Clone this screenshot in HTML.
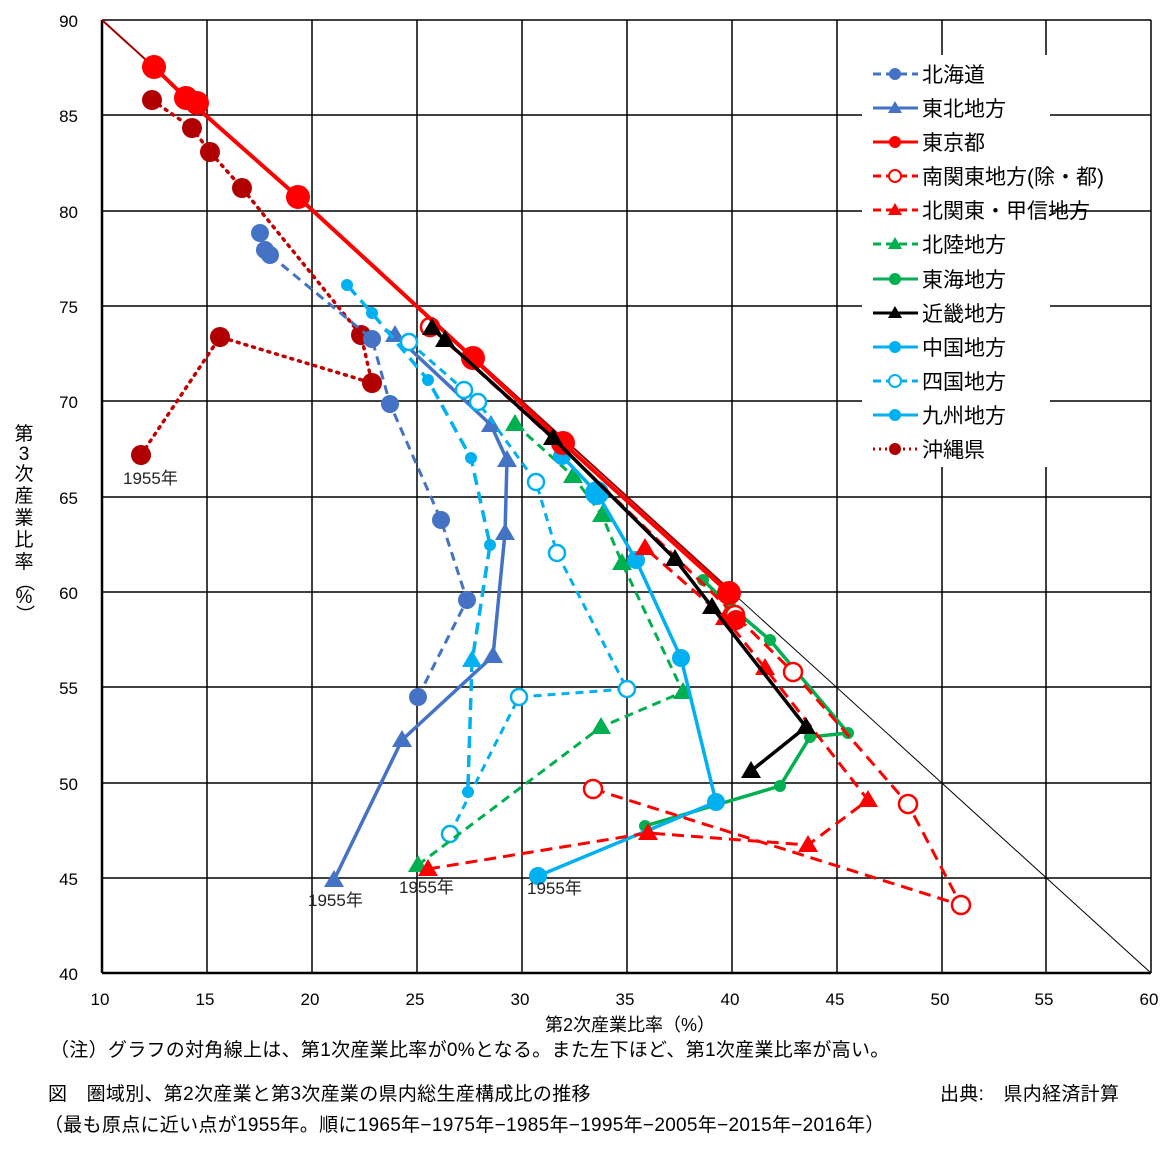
<!DOCTYPE html>
<html><head><meta charset="utf-8"><style>
body{margin:0;background:#fff;}
svg text{font-family:"Liberation Sans","Noto Sans CJK JP",sans-serif;}
</style></head><body>
<svg width="1171" height="1154" xmlns="http://www.w3.org/2000/svg">
<rect width="1171" height="1154" fill="#fff"/>
<g stroke="#000" stroke-width="1.5">
<line x1="207" y1="20" x2="207" y2="973"/><line x1="312" y1="20" x2="312" y2="973"/><line x1="417" y1="20" x2="417" y2="973"/><line x1="522" y1="20" x2="522" y2="973"/><line x1="627" y1="20" x2="627" y2="973"/><line x1="732" y1="20" x2="732" y2="973"/><line x1="837" y1="20" x2="837" y2="973"/><line x1="942" y1="20" x2="942" y2="973"/><line x1="1046" y1="20" x2="1046" y2="973"/><line x1="1151" y1="20" x2="1151" y2="973"/>
<line x1="102" y1="20" x2="1151" y2="20"/><line x1="102" y1="115" x2="1151" y2="115"/><line x1="102" y1="211" x2="1151" y2="211"/><line x1="102" y1="306" x2="1151" y2="306"/><line x1="102" y1="401" x2="1151" y2="401"/><line x1="102" y1="497" x2="1151" y2="497"/><line x1="102" y1="592" x2="1151" y2="592"/><line x1="102" y1="687" x2="1151" y2="687"/><line x1="102" y1="783" x2="1151" y2="783"/><line x1="102" y1="878" x2="1151" y2="878"/>
</g>
<line x1="102" y1="20" x2="102" y2="973" stroke="#000" stroke-width="2.5"/>
<line x1="102" y1="973" x2="1151" y2="973" stroke="#000" stroke-width="2.5"/>
<line x1="102" y1="20" x2="1151" y2="973" stroke="#000" stroke-width="1"/>
<g font-size="17" text-anchor="end">
<text x="78" y="27">90</text><text x="78" y="122">85</text><text x="78" y="218">80</text><text x="78" y="313">75</text><text x="78" y="408">70</text><text x="78" y="504">65</text><text x="78" y="599">60</text><text x="78" y="694">55</text><text x="78" y="790">50</text><text x="78" y="885">45</text><text x="78" y="980">40</text>
</g>
<g font-size="17" text-anchor="middle">
<text x="100" y="1005">10</text><text x="205" y="1005">15</text><text x="310" y="1005">20</text><text x="415" y="1005">25</text><text x="520" y="1005">30</text><text x="625" y="1005">35</text><text x="730" y="1005">40</text><text x="835" y="1005">45</text><text x="940" y="1005">50</text><text x="1044" y="1005">55</text><text x="1149" y="1005">60</text>
</g>
<text x="630" y="1031" font-size="18" text-anchor="middle">第2次産業比率（%）</text>
<g font-size="19" text-anchor="middle">
<text x="24" y="440">第</text><text x="24" y="460">3</text><text x="24" y="480">次</text><text x="24" y="502">産</text><text x="24" y="524">業</text><text x="24" y="546">比</text><text x="24" y="568">率</text>
<text x="24" y="582" dominant-baseline="central" transform="rotate(90 24 582)">（</text>
<text x="24" y="603">%</text>
<text x="24" y="614" dominant-baseline="central" transform="rotate(90 24 614)">）</text>
</g>
<g font-size="19" style="letter-spacing:0.3px">
<text x="50" y="1056">（注）グラフの対角線上は、第1次産業比率が0%となる。また左下ほど、第1次産業比率が高い。</text>
<text x="48" y="1100">図　圏域別、第2次産業と第3次産業の県内総生産構成比の推移</text>
<text x="940" y="1100">出典:　県内経済計算</text>
<text x="44" y="1131">（最も原点に近い点が1955年。順に1965年−1975年−1985年−1995年−2005年−2015年−2016年）</text>
</g>

<line x1="102" y1="20" x2="730" y2="590" stroke="#A00000" stroke-width="2"/>
<polyline points="141,455 220,337 372,383 361,335 242,188 210,152 192,128 152,100" fill="none" stroke="#C00000" stroke-width="3.5" stroke-dasharray="2,6" stroke-linecap="round"/>
<g fill="#B00000"><circle cx="141" cy="455" r="10"/><circle cx="220" cy="337" r="10"/><circle cx="372" cy="383" r="10"/><circle cx="361" cy="335" r="10"/><circle cx="242" cy="188" r="10"/><circle cx="210" cy="152" r="10"/><circle cx="192" cy="128" r="10"/><circle cx="152" cy="100" r="10"/></g>
<polyline points="418,697 467,600 441,520 390,404 372,339 270,255 265,250 260,233" fill="none" stroke="#4472C4" stroke-width="3" stroke-dasharray="9,6"/>
<g fill="#4472C4"><circle cx="418" cy="697" r="9"/><circle cx="467" cy="600" r="9"/><circle cx="441" cy="520" r="9"/><circle cx="390" cy="404" r="9"/><circle cx="372" cy="339" r="9"/><circle cx="270" cy="255" r="9"/><circle cx="265" cy="250" r="9"/><circle cx="260" cy="233" r="9"/></g>
<polyline points="334,880 402,740 493,656 505,533 507,460 491,425 395,335 385,330" fill="none" stroke="#4472C4" stroke-width="3.5"/>
<g fill="#4472C4"><path d="M334,870 l10,17 h-20z"/><path d="M402,730 l10,17 h-20z"/><path d="M493,646 l10,17 h-20z"/><path d="M505,523 l10,17 h-20z"/><path d="M507,450 l10,17 h-20z"/><path d="M491,415 l10,17 h-20z"/><path d="M395,325 l10,17 h-20z"/></g>
<polyline points="468,786 472,662 490,545 471,458 428,380 372,313 347,285" fill="none" stroke="#00B0F0" stroke-width="3.5" stroke-dasharray="12,7"/>
<g fill="#00B0F0"><circle cx="468" cy="792" r="6"/><path d="M472,650 l10,17 h-20z"/><circle cx="490" cy="545" r="6"/><circle cx="471" cy="458" r="6"/><circle cx="428" cy="380" r="6"/><circle cx="372" cy="313" r="6"/><circle cx="347" cy="285" r="6"/></g>
<polyline points="450,834 519,697 627,689 557,553 536,482 478,402 464,390 409,342" fill="none" stroke="#00B0F0" stroke-width="3" stroke-dasharray="8,6"/>
<g fill="#fff" stroke="#00B0F0" stroke-width="2.5"><circle cx="450" cy="834" r="8"/><circle cx="519" cy="697" r="8"/><circle cx="627" cy="689" r="8"/><circle cx="557" cy="553" r="8"/><circle cx="536" cy="482" r="8"/><circle cx="478" cy="402" r="8"/><circle cx="464" cy="390" r="8"/><circle cx="409" cy="342" r="8"/></g>
<polyline points="418,865 601,727 683,692 622,563 602,515 573,476 515,424" fill="none" stroke="#00B050" stroke-width="3" stroke-dasharray="9,6"/>
<g fill="#00B050"><path d="M418,855 l10,17 h-20z"/><path d="M601,717 l10,17 h-20z"/><path d="M683,682 l10,17 h-20z"/><path d="M622,553 l10,17 h-20z"/><path d="M602,505 l10,17 h-20z"/><path d="M573,466 l10,17 h-20z"/><path d="M515,414 l10,17 h-20z"/></g>
<polyline points="645,826 780,786 810,737 848,733 770,640 730,606 703,580" fill="none" stroke="#00B050" stroke-width="3.5"/>
<g fill="#00B050"><circle cx="645" cy="826" r="6"/><circle cx="780" cy="786" r="6"/><circle cx="810" cy="737" r="6"/><circle cx="848" cy="733" r="6"/><circle cx="770" cy="640" r="6"/><circle cx="730" cy="606" r="6"/><circle cx="703" cy="580" r="6"/></g>
<polyline points="538,876 716,802 681,658 636,560 597,493 562,456" fill="none" stroke="#00B0F0" stroke-width="3.5"/>
<g fill="#00B0F0"><circle cx="538" cy="876" r="9"/><circle cx="716" cy="802" r="9"/><circle cx="681" cy="658" r="9"/><circle cx="636" cy="560" r="9"/><circle cx="597" cy="493" r="12"/><circle cx="562" cy="456" r="9"/></g>
<polyline points="428,869 648,833 808,845 868,800 765,668 725,618 645,548" fill="none" stroke="#FF0000" stroke-width="3" stroke-dasharray="12,7"/>
<g fill="#FF0000"><path d="M428,859 l10,17 h-20z"/><path d="M648,823 l10,17 h-20z"/><path d="M808,835 l10,17 h-20z"/><path d="M868,790 l10,17 h-20z"/><path d="M765,658 l10,17 h-20z"/><path d="M725,608 l10,17 h-20z"/><path d="M645,538 l10,17 h-20z"/></g>
<polyline points="593,789 961,905 908,804 793,672 735,615 560,445 430,327" fill="none" stroke="#FF0000" stroke-width="3" stroke-dasharray="12,7"/>
<g fill="#fff" stroke="#FF0000" stroke-width="2.5"><circle cx="593" cy="789" r="9"/><circle cx="961" cy="905" r="9"/><circle cx="908" cy="804" r="9"/><circle cx="793" cy="672" r="9"/><circle cx="735" cy="615" r="9"/><circle cx="430" cy="327" r="9"/></g>
<polyline points="729,593 563,443 473,358 298,197 186,98 154,67" fill="none" stroke="#FF0000" stroke-width="4"/>
<g fill="#FF0000"><circle cx="729" cy="593" r="12"/><circle cx="563" cy="443" r="12"/><circle cx="473" cy="358" r="12"/><circle cx="298" cy="197" r="12"/><circle cx="186" cy="98" r="12"/><circle cx="197" cy="103" r="12"/><circle cx="154" cy="67" r="12"/><circle cx="736" cy="620" r="10"/></g>
<polyline points="751,771 806,727 712,607 675,559 553,438 445,340 432,328" fill="none" stroke="#000" stroke-width="3.5"/>
<g fill="#000"><path d="M751,761 l10,17 h-20z"/><path d="M806,717 l10,17 h-20z"/><path d="M712,597 l10,17 h-20z"/><path d="M675,549 l10,17 h-20z"/><path d="M553,428 l10,17 h-20z"/><path d="M445,330 l10,17 h-20z"/><path d="M432,318 l10,17 h-20z"/></g>
<g font-size="17" fill="#222"><text x="123" y="484">1955年</text><text x="308" y="906">1955年</text><text x="399" y="893">1955年</text><text x="527" y="894">1955年</text></g>
<rect x="862" y="55" width="188" height="412" fill="#fff"/>
<g font-size="21">
<g transform="translate(0,74)"><line x1="873" y1="0" x2="918" y2="0" stroke="#4472C4" stroke-width="3" stroke-dasharray="8,5"/><circle cx="895" cy="0" r="6" fill="#4472C4"/><text x="922" y="8">北海道</text></g>
<g transform="translate(0,108)"><line x1="873" y1="0" x2="918" y2="0" stroke="#4472C4" stroke-width="3"/><path d="M895,-7 l7,12 h-14z" fill="#4472C4"/><text x="922" y="8">東北地方</text></g>
<g transform="translate(0,142)"><line x1="873" y1="0" x2="918" y2="0" stroke="#FF0000" stroke-width="3"/><circle cx="895" cy="0" r="6" fill="#FF0000"/><text x="922" y="8">東京都</text></g>
<g transform="translate(0,176)"><line x1="873" y1="0" x2="918" y2="0" stroke="#FF0000" stroke-width="3" stroke-dasharray="8,5"/><circle cx="895" cy="0" r="6" fill="#fff" stroke="#FF0000" stroke-width="2"/><text x="922" y="8">南関東地方(除・都)</text></g>
<g transform="translate(0,210)"><line x1="873" y1="0" x2="918" y2="0" stroke="#FF0000" stroke-width="3" stroke-dasharray="8,5"/><path d="M895,-7 l7,12 h-14z" fill="#FF0000"/><text x="922" y="8">北関東・甲信地方</text></g>
<g transform="translate(0,244)"><line x1="873" y1="0" x2="918" y2="0" stroke="#00B050" stroke-width="3" stroke-dasharray="8,5"/><path d="M895,-7 l7,12 h-14z" fill="#00B050"/><text x="922" y="8">北陸地方</text></g>
<g transform="translate(0,279)"><line x1="873" y1="0" x2="918" y2="0" stroke="#00B050" stroke-width="3"/><circle cx="895" cy="0" r="6" fill="#00B050"/><text x="922" y="8">東海地方</text></g>
<g transform="translate(0,313)"><line x1="873" y1="0" x2="918" y2="0" stroke="#000" stroke-width="3"/><path d="M895,-7 l7,12 h-14z" fill="#000"/><text x="922" y="8">近畿地方</text></g>
<g transform="translate(0,347)"><line x1="873" y1="0" x2="918" y2="0" stroke="#00B0F0" stroke-width="3"/><circle cx="895" cy="0" r="6" fill="#00B0F0"/><text x="922" y="8">中国地方</text></g>
<g transform="translate(0,381)"><line x1="873" y1="0" x2="918" y2="0" stroke="#00B0F0" stroke-width="3" stroke-dasharray="8,5"/><circle cx="895" cy="0" r="6" fill="#fff" stroke="#00B0F0" stroke-width="2"/><text x="922" y="8">四国地方</text></g>
<g transform="translate(0,415)"><line x1="873" y1="0" x2="918" y2="0" stroke="#00B0F0" stroke-width="3"/><circle cx="895" cy="0" r="6" fill="#00B0F0"/><text x="922" y="8">九州地方</text></g>
<g transform="translate(0,449)"><line x1="873" y1="0" x2="918" y2="0" stroke="#C00000" stroke-width="3" stroke-dasharray="2,4"/><circle cx="895" cy="0" r="6" fill="#B00000"/><text x="922" y="8">沖縄県</text></g>
</g>
</svg>
</body></html>
